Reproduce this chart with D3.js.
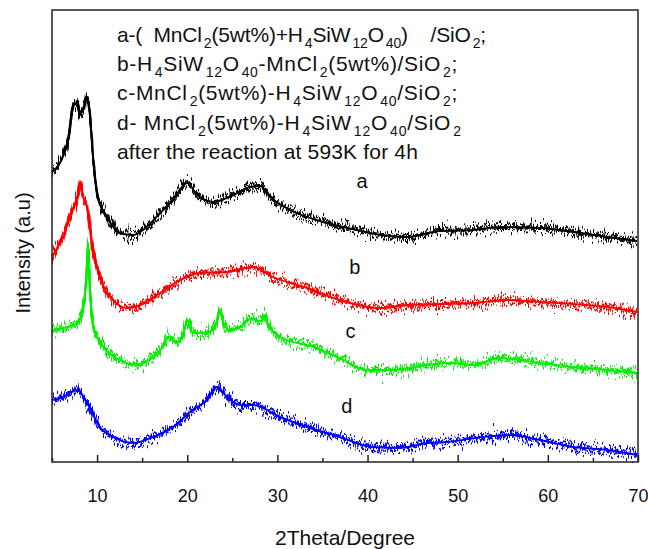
<!DOCTYPE html>
<html><head><meta charset="utf-8">
<script src="https://cdn.jsdelivr.net/npm/d3@7"></script>
<style>body{margin:0;background:#fff}svg{display:block}text{font-family:"Liberation Sans",Arial,sans-serif;white-space:pre}</style>
</head><body><svg id="c" width="648" height="549"></svg>
<script>
// 2Theta (deg) and intensity (a.u.)
const theta_a = [5.0,6.2,6.8,7.3,7.8,8.1,8.5,8.9,9.2,9.6,10.1,11.1,12.5,14.0,15.5,17.0,18.4,20.0,21.1,22.9,25.1,27.0,28.1,29.2,31.4,35.1,38.8,41.4,44.4,48.0,51.7,54.7,59.1,62.8,66.6,69.9];
const int_a   = [290,305,322,355,359,348,354,365,349,299,265,245,229,227,235,249,262,279,267,260,267,275,276,265,252,240,232,227,225,231,232,235,234,230,225,221];
const theta_b = [5.0,6.2,7.3,7.9,8.1,8.4,8.9,9.6,10.3,11.8,13.3,14.8,17.0,19.2,21.4,24.4,27.3,29.5,33.3,36.9,41.4,44.4,48.0,51.7,55.5,59.1,62.8,66.6,69.9];
const int_b   = [205,225,252,267,279,267,254,209,185,162,154,157,169,182,189,190,195,185,174,162,154,157,158,159,162,160,158,155,150];
const theta_c = [5.0,6.7,7.8,8.4,8.8,9.0,9.2,9.6,10.7,12.5,14.4,16.2,17.3,17.9,18.9,19.6,20.0,20.3,20.6,22.2,23.3,23.6,24.0,24.7,25.9,27.0,28.3,28.6,28.9,30.3,34.0,36.9,39.9,42.8,46.6,49.2,51.7,54.7,59.1,62.8,66.6,69.9];
const int_c   = [132,135,139,152,182,219,175,135,115,102,97,105,115,125,119,130,142,136,129,129,140,152,140,132,135,143,141,147,139,125,115,104,92,92,97,99,97,104,99,95,92,89];
const theta_d = [5.0,6.2,7.8,8.9,10.3,11.8,14.0,16.2,18.4,20.6,22.2,23.3,24.4,25.9,27.3,30.3,33.3,36.9,40.6,43.6,46.6,48.8,52.8,55.8,59.1,62.8,66.6,69.9];
const int_d   = [62,65,72,59,35,25,19,25,35,52,62,75,65,57,57,45,35,25,15,14,19,20,25,27,22,15,12,7];
const seriesNames = ["a","b","c","d"];
const seriesColors = ["#000000","#ff0000","#00f000","#0000ff"];
// label anchor positions (2Theta, intensity)
const labelTheta = [39.4,38.6,38.1,37.7];
const labelInt   = [274,188,124,49];
const xTicks = [10,20,30,40,50,60,70];
const xMinorTicks = [5,15,25,35,45,55,65];
const legendLines = [
  [["a-(  MnCl",0],["2",1],["(5wt%)+H",0],["4",1],["SiW",0],["12",1],["O",0],["40",1],[")    /SiO",0],["2",1],[";",0]],
  [["b-H",0],["4",1],["SiW",0],["12",1],["O",0],["40",1],["-MnCl",0],["2",1],["(5wt%)/SiO",0],["2",1],[";",0]],
  [["c-MnCl",0],["2",1],["(5wt%)-H",0],["4",1],["SiW",0],["12",1],["O",0],["40",1],["/SiO",0],["2",1],[";",0]],
  [["d- MnCl",0],["2",1],["(5wt%)-H",0],["4",1],["SiW",0],["12",1],["O",0],["40",1],["/SiO",0],["2",1]],
  [["after the reaction at 593K for 4h",0]]
];
const series = [
  {name:"a", t:theta_a, v:int_a},
  {name:"b", t:theta_b, v:int_b},
  {name:"c", t:theta_c, v:int_c},
  {name:"d", t:theta_d, v:int_d}
];

const W=648,H=549,m={l:52,t:10,r:10,b:87};
const svg=d3.select("#c");
const x=d3.scaleLinear().domain([5,70]).range([m.l,W-m.r]);
const y=d3.scaleLinear().domain([0,452]).range([H-m.b,m.t]);

// visual texture filter (rendering only; data stays as read)
const defs=svg.append("defs");
const f=defs.append("filter").attr("id","jit").attr("x","-2%").attr("y","-40%").attr("width","104%").attr("height","180%").attr("color-interpolation-filters","sRGB");
[[1.1,5,30,"d1"],[0.7,11,24,"d2"],[1.6,23,18,"d3"]].forEach(([bf,seed,sc,id])=>{
  f.append("feTurbulence").attr("type","fractalNoise").attr("baseFrequency",bf+" 0.03").attr("numOctaves",2).attr("seed",seed).attr("result","t"+id);
  f.append("feColorMatrix").attr("in","t"+id).attr("type","matrix").attr("values","1 0 0 0 0  0 1 0 0 0  0 0 0 0 0.5  0 0 0 0 1").attr("result","n"+id);
  f.append("feDisplacementMap").attr("in","SourceGraphic").attr("in2","n"+id).attr("scale",sc).attr("xChannelSelector","B").attr("yChannelSelector","R").attr("result",id);
});
const mg=f.append("feMerge");
mg.append("feMergeNode").attr("in","SourceGraphic");
mg.append("feMergeNode").attr("in","d1");
mg.append("feMergeNode").attr("in","d2");
mg.append("feMergeNode").attr("in","d3");

const line=d3.line().x(d=>x(d[0])).y(d=>y(d[1])).curve(d3.curveMonotoneX);
series.forEach((s,i)=>{
  const pts=s.t.map((t,j)=>[t,s.v[j]]);
  svg.append("path").attr("d",line(pts)).attr("fill","none").attr("stroke",seriesColors[i]).attr("stroke-width",1.9).attr("filter","url(#jit)");
});

// frame
svg.append("rect").attr("x",m.l).attr("y",m.t).attr("width",W-m.l-m.r).attr("height",H-m.t-m.b).attr("fill","none").attr("stroke","#222").attr("stroke-width",1.5);

// bottom axis ticks (inward)
const ax=d3.axisBottom(x).tickValues(xTicks).tickSize(-7).tickPadding(27).tickFormat(d3.format("d"));
const g=svg.append("g").attr("transform",`translate(0,${H-m.b})`).call(ax);
g.select(".domain").remove();
g.selectAll("line").attr("stroke","#222").attr("stroke-width",1.5);
g.selectAll("text").attr("font-size",18).attr("fill","#111").style("font-family","Liberation Sans, Arial, sans-serif");
const axm=d3.axisBottom(x).tickValues(xMinorTicks).tickSize(-4).tickFormat("");
const gm=svg.append("g").attr("transform",`translate(0,${H-m.b})`).call(axm);
gm.select(".domain").remove();
gm.selectAll("line").attr("stroke","#222").attr("stroke-width",1.5);

// axis titles
svg.append("text").attr("x",345).attr("y",545).attr("text-anchor","middle").attr("font-size",21).attr("fill","#111").text("2Theta/Degree");
svg.append("text").attr("transform","translate(30,253) rotate(-90)").attr("text-anchor","middle").attr("font-size",20).attr("fill","#111").text("Intensity (a.u)");

// legend text block
const baselines=[42,71,100,130,159];
const targetEnds=[486,458,458,462,418];
legendLines.forEach((segs,i)=>{
  const t=svg.append("text").attr("x",117).attr("y",baselines[i]).attr("font-size",21).attr("fill","#111");
  segs.forEach(([s,sub],j)=>{
    const prevSub=j>0?segs[j-1][1]:0;
    const ts=t.append("tspan").text(s);
    if(sub) ts.attr("font-size",14).attr("dx",2);
    ts.attr("dy", sub&&!prevSub?6:(!sub&&prevSub?-6:0));
  });
  const bb=t.node().getBBox();
  const nChars=segs.reduce((a,s)=>a+s[0].length,0);
  const extra=(targetEnds[i]-117)-bb.width;
  t.attr("letter-spacing",(extra/nChars).toFixed(3));
});

// curve labels
seriesNames.forEach((n,i)=>{
  svg.append("text").attr("x",x(labelTheta[i])).attr("y",y(labelInt[i])).attr("text-anchor","middle").attr("font-size",20).attr("fill","#111").text(n);
});
</script></body></html>
